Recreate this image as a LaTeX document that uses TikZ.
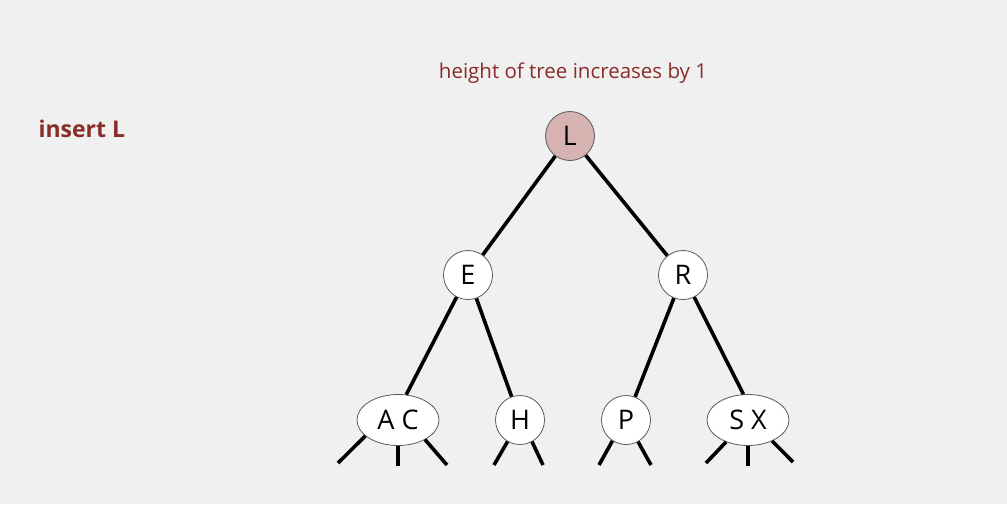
\documentclass[tikz,border=0pt]{standalone}
\usepackage{fontspec}
\setmainfont{Open Sans}
\usetikzlibrary{shapes.geometric}
\definecolor{bg}{RGB}{240,240,240}
\definecolor{dred}{RGB}{137,45,40}
\definecolor{pinkfill}{RGB}{214,178,176}
\definecolor{nodeedge}{RGB}{90,90,90}
\begin{document}
\begin{tikzpicture}[x=1pt,y=-1pt,
  tnode/.style={circle,draw=nodeedge,line width=0.8pt,fill=white,minimum size=49pt,inner sep=0pt,font=\fontsize{27}{30}\selectfont},
  tnode3/.style={ellipse,draw=nodeedge,line width=0.8pt,fill=white,minimum width=82pt,minimum height=51pt,inner sep=0pt,font=\fontsize{27}{30}\selectfont},
  link/.style={line width=3.6pt,black},
  lbl/.style={text=dred,font=\fontsize{20.5}{24}\selectfont}]
\fill[bg] (0,0) rectangle (1007,504);
\useasboundingbox (0,0) rectangle (1007,504);
\node[lbl] (title) at (573,73) {height of tree increases by 1};
\node[lbl,anchor=west,font=\fontsize{23}{26}\selectfont\bfseries] (ins) at (35,129) {insert L};
% coordinates of free ends
\coordinate (a1) at (338,463);
\coordinate (a2) at (398,466);
\coordinate (a3) at (447,465);
\coordinate (h1) at (494,465);
\coordinate (h2) at (543,465);
\coordinate (p1) at (599,465);
\coordinate (p2) at (651,465);
\coordinate (s1) at (706,463);
\coordinate (s2) at (748,466);
\coordinate (s3) at (793,462);
% nodes
\node[tnode,fill=pinkfill] (L) at (570,136) {L};
\node[tnode] (E) at (468,275) {E};
\node[tnode] (R) at (683,275) {R};
\node[tnode3] (AC) at (398,420) {A C};
\node[tnode] (H) at (520,420) {H};
\node[tnode] (P) at (626,420) {P};
\node[tnode3] (SX) at (748,420) {S X};
% edges
\draw[link] (L) -- (E);
\draw[link] (L) -- (R);
\draw[link] (E) -- (AC.72);
\draw[link] (E) -- (H);
\draw[link] (R) -- (P);
\draw[link] (R) -- (SX.100);
\draw[link] (AC.206) -- (a1);
\draw[link] (AC.270) -- (a2);
\draw[link] (AC.324) -- (a3);
\draw[link] (H.240) -- (h1);
\draw[link] (H.299) -- (h2);
\draw[link] (P.237) -- (p1);
\draw[link] (P.299) -- (p2);
\draw[link] (SX.225) -- (s1);
\draw[link] (SX.270) -- (s2);
\draw[link] (SX.319) -- (s3);
\end{tikzpicture}
\end{document}
